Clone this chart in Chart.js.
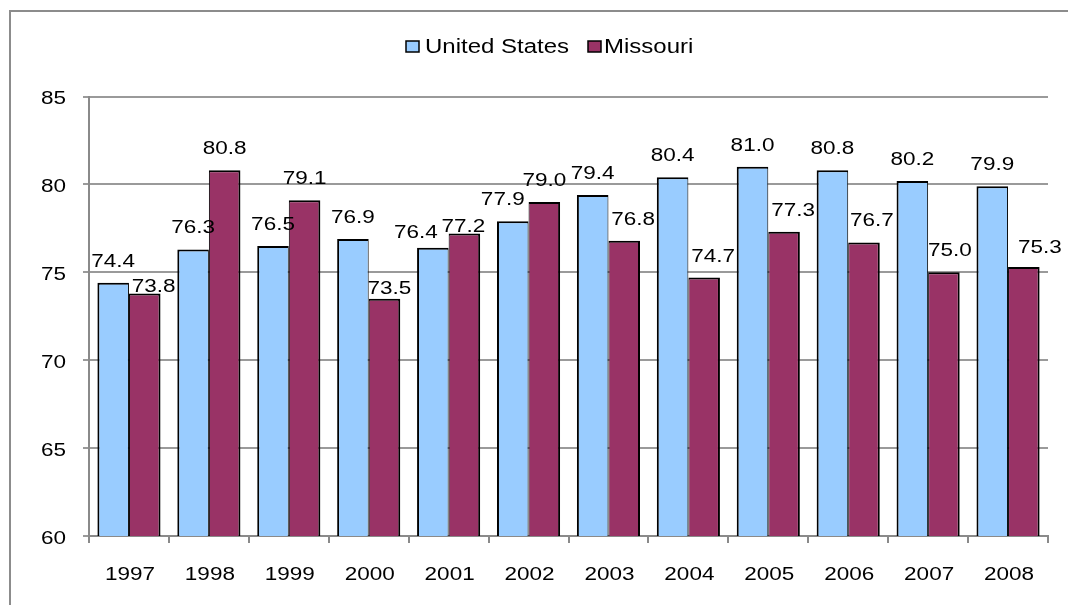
<!DOCTYPE html>
<html>
<head>
<meta charset="utf-8">
<script src="https://cdn.jsdelivr.net/npm/chart.js@4/dist/chart.umd.min.js"></script>
<style>
  html, body { margin: 0; padding: 0; background: #ffffff; }
  #wrap { width: 1068px; height: 605px; position: relative; }
</style>
</head>
<body>
<div id="wrap"><canvas id="c" width="1068" height="605"></canvas></div>
<script>
// ---- data ----
const years = ['1997','1998','1999','2000','2001','2002','2003','2004','2005','2006','2007','2008'];
const unitedStates = [74.4, 76.3, 76.5, 76.9, 76.4, 77.9, 79.4, 80.4, 81.0, 80.8, 80.2, 79.9];
const missouri     = [73.8, 80.8, 79.1, 73.5, 77.2, 79.0, 76.8, 74.7, 77.3, 76.7, 75.0, 75.3];
const seriesNames  = ['United States', 'Missouri'];
const yMin = 60, yMax = 85, yStep = 5;

// ---- styling ----
const FONT = '"Liberation Sans", Arial, sans-serif';
const STRETCH = 1.25;
const US_COLOR = '#99CCFF';
const MO_COLOR = '#993366';
const AXIS_GRAY = '#8a8a8a';
const GRID_GRAY = '#9a9a9a';

function stretchedText(ctx, text, x, y, align, size, sx) {
  ctx.save();
  ctx.font = size + 'px ' + FONT;
  ctx.fillStyle = '#000';
  ctx.textBaseline = 'alphabetic';
  ctx.translate(x, y);
  ctx.scale(sx, 1);
  ctx.textAlign = align;
  ctx.fillText(text, 0, 0);
  ctx.restore();
}

const framePlugin = {
  id: 'frame',
  beforeDraw(chart) {
    const ctx = chart.ctx;
    ctx.save();
    ctx.fillStyle = '#fff';
    ctx.fillRect(0, 0, chart.width, chart.height);
    ctx.strokeStyle = '#8c8c8c';
    ctx.lineWidth = 2;
    ctx.strokeRect(10, 11, chart.width + 20, chart.height + 20);
    ctx.restore();
  }
};

const textPlugin = {
  id: 'texts',
  afterDraw(chart, args, opts) {
    const ctx = chart.ctx;
    const xs = chart.scales.x, ys = chart.scales.y;
    // y tick labels
    ys.ticks.forEach((t, i) => {
      const py = ys.getPixelForTick(i);
      stretchedText(ctx, String(t.value), 66, py + 7.5, 'right', 18, STRETCH);
    });
    // x tick labels
    xs.ticks.forEach((t, i) => {
      const px = xs.getPixelForTick(i);
      stretchedText(ctx, xs.getLabelForValue(t.value), px + 1, 580, 'center', 18, STRETCH);
    });
    // data labels
    chart.data.datasets.forEach((ds, di) => {
      const meta = chart.getDatasetMeta(di);
      const shifts = opts.shifts[di];
      meta.data.forEach((bar, i) => {
        const s = shifts[i];
        stretchedText(ctx, ds.data[i].toFixed(1), bar.x + s[0], bar.y - 16 + s[1], 'center', 18, STRETCH);
      });
    });
    // legend
    const items = [
      { box: 406, text: 425, color: US_COLOR, label: chart.data.datasets[0].label },
      { box: 588, text: 604, color: MO_COLOR, label: chart.data.datasets[1].label }
    ];
    items.forEach(it => {
      ctx.save();
      ctx.fillStyle = it.color;
      ctx.strokeStyle = '#000';
      ctx.lineWidth = 1.5;
      ctx.fillRect(it.box, 41, 13, 11);
      ctx.strokeRect(it.box, 41, 13, 11);
      ctx.restore();
      stretchedText(ctx, it.label, it.text, 53, 'left', 20, 1.2);
    });
  }
};

new Chart(document.getElementById('c'), {
  type: 'bar',
  data: {
    labels: years,
    datasets: [
      {
        label: seriesNames[0],
        data: unitedStates,
        backgroundColor: US_COLOR,
        borderColor: '#000',
        borderWidth: { top: 2, left: 2, right: 1, bottom: 0 },
        borderSkipped: false,
        categoryPercentage: 0.79,
        barPercentage: 1.0
      },
      {
        label: seriesNames[1],
        data: missouri,
        backgroundColor: MO_COLOR,
        borderColor: '#000',
        borderWidth: { top: 2, left: 1, right: 2, bottom: 0 },
        borderSkipped: false,
        categoryPercentage: 0.79,
        barPercentage: 1.0
      }
    ]
  },
  options: {
    responsive: false,
    animation: false,
    devicePixelRatio: 1,
    layout: { padding: { left: 0, top: 96.5, right: 20, bottom: 0 } },
    plugins: {
      legend: { display: false },
      tooltip: { enabled: false },
      texts: {
        shifts: [
          [[0,0],[0,0],[0,0],[0,0],[-17,6],[-10,0],[0,0],[0,0],[0,0],[0,0],[0,0],[0,0]],
          [[9,15],[0,0],[0,0],[5,11],[-1,14],[0,0],[9,0],[9,0],[9,0],[8,0],[6,0],[16,2]]
        ]
      }
    },
    scales: {
      x: {
        offset: true,
        grid: { display: true, offset: true, drawOnChartArea: false, drawTicks: true, tickLength: 7, color: AXIS_GRAY, lineWidth: 2 },
        border: { display: true, color: AXIS_GRAY, width: 2 },
        ticks: { display: false },
        afterFit(scale) { scale.height = 69; }
      },
      y: {
        min: yMin,
        max: yMax,
        ticks: { display: false, stepSize: yStep },
        grid: { color: GRID_GRAY, lineWidth: 2, drawTicks: true, tickLength: 6 },
        border: { display: true, color: AXIS_GRAY, width: 2 },
        afterFit(scale) { scale.width = 89; }
      }
    }
  },
  plugins: [framePlugin, textPlugin]
});
</script>
</body>
</html>
